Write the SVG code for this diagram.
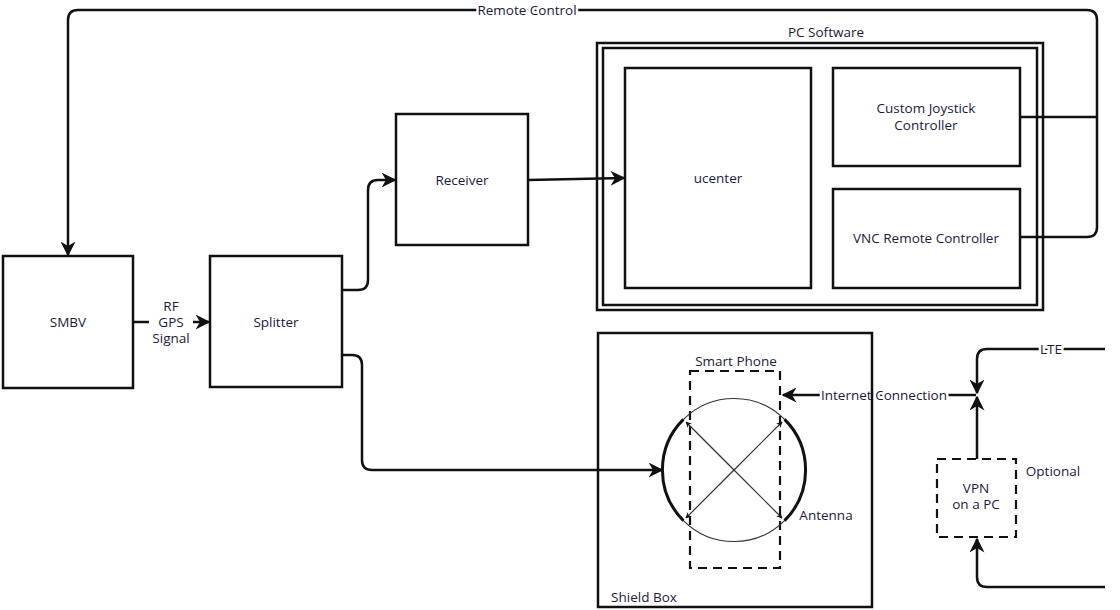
<svg xmlns="http://www.w3.org/2000/svg" width="1120" height="610" viewBox="0 0 1120 610">
<style>
.box{fill:none;stroke:#111;stroke-width:2.5}
.dash{fill:none;stroke:#111;stroke-width:2.2;stroke-dasharray:9 6}
.ln{fill:none;stroke:#111;stroke-width:2.5}
.thin{fill:none;stroke:#333;stroke-width:1.2}
text{font-family:"Open Sans","DejaVu Sans",sans-serif;font-size:13.5px;fill:#1c1a3a;text-anchor:middle}
.lbl{paint-order:stroke;stroke:#fff;stroke-width:5px}
</style>
<defs>
<marker id="arr" viewBox="0 0 10 10" refX="9" refY="5" markerWidth="6" markerHeight="6" orient="auto" markerUnits="userSpaceOnUse">
<path d="M0,0 L10,5 L0,10 L3,5 Z" fill="#111"/>
</marker>
<marker id="arrL" viewBox="0 0 10 10" refX="9" refY="5" markerWidth="15" markerHeight="15" orient="auto" markerUnits="userSpaceOnUse">
<path d="M0,0 L10,5 L0,10 L3,5 Z" fill="#111"/>
</marker>
</defs>
<rect width="1120" height="610" fill="#fff"/>

<g id="connectors">
<path class="ln" d="M1020,117 H1097"/>
<path class="ln" d="M1020,237 H1087 Q1097,237 1097,227 V20 Q1097,10 1087,10 H78 Q68,10 68,20 V255" marker-end="url(#arrL)"/>
<path class="ln" d="M133,322 H149"/>
<path class="ln" d="M193,322 H209" marker-end="url(#arrL)"/>
<path class="ln" d="M342,290 H358 Q368,290 368,280 V190 Q368,180 378,180 H395" marker-end="url(#arrL)"/>
<path class="ln" d="M528,180 L624,178" marker-end="url(#arrL)"/>
<path class="ln" d="M342,355 H352 Q362,355 362,365 V460 Q362,470 372,470 H662" marker-end="url(#arrL)"/>
<path class="ln" d="M976,395 H783" marker-end="url(#arrL)"/>
<path class="ln" d="M1105,349 H987 Q977,349 977,359 V393" marker-end="url(#arrL)"/>
<path class="ln" d="M977,459 V397" marker-end="url(#arrL)"/>
<path class="ln" d="M1105,587 H987 Q977,587 977,577 V539" marker-end="url(#arrL)"/>
<text class="lbl" x="527" y="15">Remote Control</text>
<text x="171" y="311">RF</text>
<text x="171" y="327">GPS</text>
<text x="171" y="343">Signal</text>
<text class="lbl" x="884" y="400">Internet Connection</text>
<text class="lbl" x="1051" y="354">LTE</text>
</g>

<g id="smbv">
<rect class="box" x="3" y="256" width="130" height="132"/>
<text x="68" y="327">SMBV</text>
</g>
<g id="splitter">
<rect class="box" x="210" y="256" width="132" height="131"/>
<text x="276" y="327">Splitter</text>
</g>
<g id="receiver">
<rect class="box" x="396" y="114" width="132" height="131"/>
<text x="462" y="185">Receiver</text>
</g>
<g id="pc-software">
<rect class="box" x="597" y="43" width="446" height="267"/>
<rect class="box" x="603" y="48" width="434" height="257"/>
<text x="826" y="37">PC Software</text>
</g>
<g id="ucenter">
<rect class="box" x="625" y="68" width="186" height="220"/>
<text x="718" y="183">ucenter</text>
</g>
<g id="joystick">
<rect class="box" x="833" y="68" width="187" height="98"/>
<text x="926" y="113">Custom Joystick</text>
<text x="926" y="130">Controller</text>
</g>
<g id="vnc">
<rect class="box" x="833" y="189" width="187" height="99"/>
<text x="926" y="243">VNC Remote Controller</text>
</g>
<g id="shield-box">
<rect class="box" x="598" y="333" width="274" height="274"/>
<text x="644" y="602">Shield Box</text>
</g>
<g id="smart-phone">
<rect class="dash" x="690" y="371" width="90" height="197"/>
<text x="736" y="366">Smart Phone</text>
</g>
<g id="antenna">
<circle class="thin" cx="734" cy="470" r="71.5"/>
<path fill="none" stroke="#111" stroke-width="3" d="M683.4,419.4 A71.5,71.5 0 0 0 683.4,520.6"/>
<path fill="none" stroke="#111" stroke-width="3" d="M784.6,419.4 A71.5,71.5 0 0 1 784.6,520.6"/>
<line class="thin" x1="734" y1="470" x2="686" y2="422" marker-end="url(#arr)"/>
<line class="thin" x1="734" y1="470" x2="782" y2="422" marker-end="url(#arr)"/>
<line class="thin" x1="734" y1="470" x2="686" y2="518" marker-end="url(#arr)"/>
<line class="thin" x1="734" y1="470" x2="782" y2="518" marker-end="url(#arr)"/>
<text x="826" y="520">Antenna</text>
</g>
<g id="vpn">
<rect class="dash" x="937" y="459" width="79" height="78"/>
<text x="976" y="493">VPN</text>
<text x="976" y="509">on a PC</text>
<text x="1053" y="476">Optional</text>
</g>
</svg>
